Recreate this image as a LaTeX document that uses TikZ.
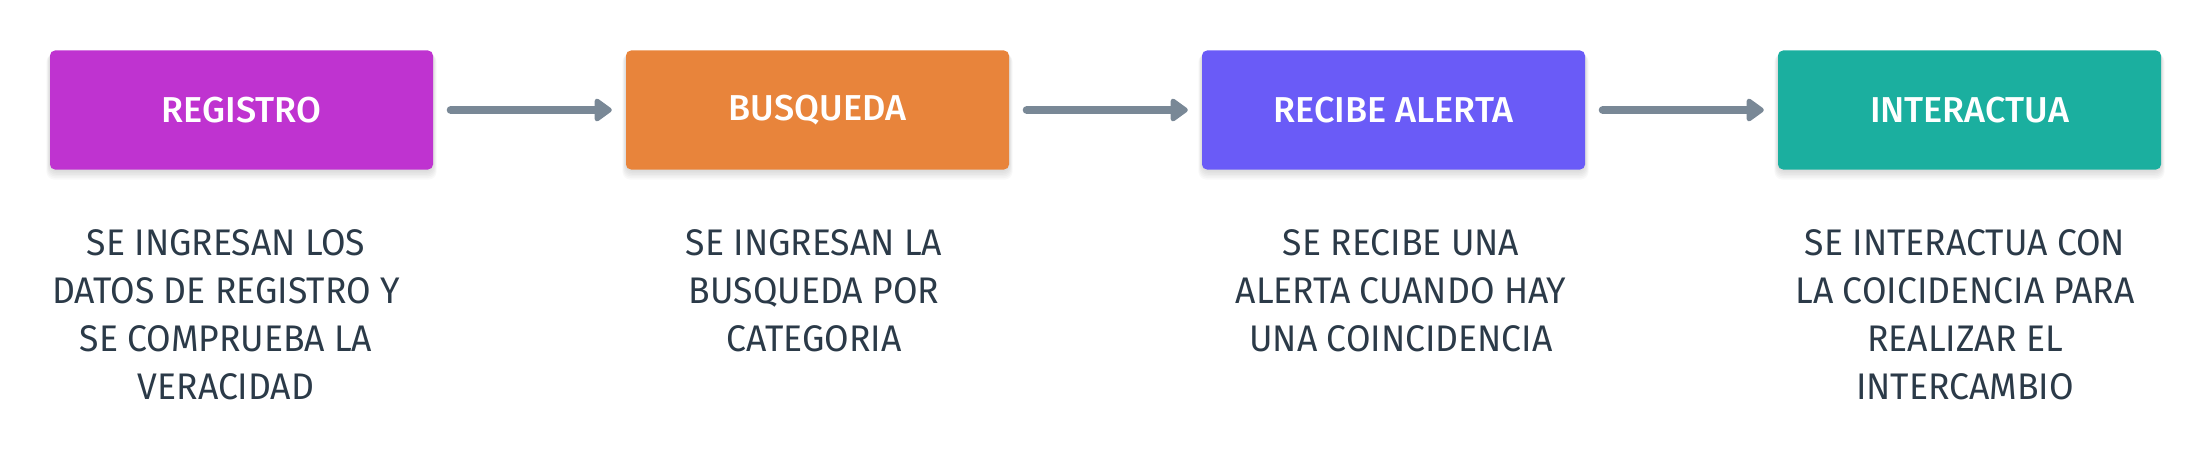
\documentclass[tikz,border=0pt]{standalone}
\usepackage{fontspec}
\setmainfont{Fira Sans}[FakeStretch=0.96]
\newfontfamily\labelfont{Fira Sans Medium}
\usetikzlibrary{arrows.meta}
\definecolor{cpurple}{HTML}{BF33D0}
\definecolor{corange}{HTML}{E8843B}
\definecolor{cindigo}{HTML}{6A5BF7}
\definecolor{cteal}{HTML}{1BAF9F}
\definecolor{carrow}{HTML}{798896}
\definecolor{ctext}{HTML}{2B3A48}
\begin{document}
\begin{tikzpicture}[x=1pt,y=-1pt,
  stepbox/.style={minimum width=383pt, minimum height=119pt, rounded corners=5pt,
    text=white, inner sep=0pt, font=\labelfont\fontsize{36}{40}\selectfont},
  desc/.style={text=ctext, align=center, inner sep=0pt, anchor=north,
    font=\fontsize{37}{48}\selectfont},
  flow/.style={draw=carrow, line width=8pt, line cap=round,
    -{Triangle[length=19pt,width=26pt,round]}},
  shadowbox/.style={fill=black, opacity=0.025, rounded corners=8pt}
]
\useasboundingbox (0,0) rectangle (2212,460);
% shadows
\foreach \cx in {241.5,817.5,1393.5,1969.5}{
  \foreach \g in {1,...,6}{
    \fill[shadowbox] (\cx-191.5-\g*0.6, 52+\g*0.3) rectangle (\cx+191.5+\g*0.6, 170+\g*1.6);
  }
}
\node[stepbox, fill=cpurple] (r1) at (241.5,110) {REGISTRO};
\node[stepbox, fill=corange] (r2) at (817.5,110) {BUSQUEDA};
\node[stepbox, fill=cindigo] (r3) at (1393.5,110) {RECIBE ALERTA};
\node[stepbox, fill=cteal] (r4) at (1969.5,110) {INTERACTUA};
\draw[flow] ([xshift=17.5pt]r1.east) -- ([xshift=-14pt]r2.west);
\draw[flow] ([xshift=17.5pt]r2.east) -- ([xshift=-14pt]r3.west);
\draw[flow] ([xshift=17.5pt]r3.east) -- ([xshift=-14pt]r4.west);
\node[desc] (d1) at (226,229) {SE INGRESAN LOS\\DATOS DE REGISTRO Y\\SE COMPRUEBA LA\\VERACIDAD};
\node[desc] (d2) at (814,229) {SE INGRESAN LA\\BUSQUEDA POR\\CATEGORIA};
\node[desc] (d3) at (1401,229) {SE RECIBE UNA\\ALERTA CUANDO HAY\\UNA COINCIDENCIA};
\node[desc] (d4) at (1965,229) {SE INTERACTUA CON\\LA COICIDENCIA PARA\\REALIZAR EL\\INTERCAMBIO};
\end{tikzpicture}
\end{document}
